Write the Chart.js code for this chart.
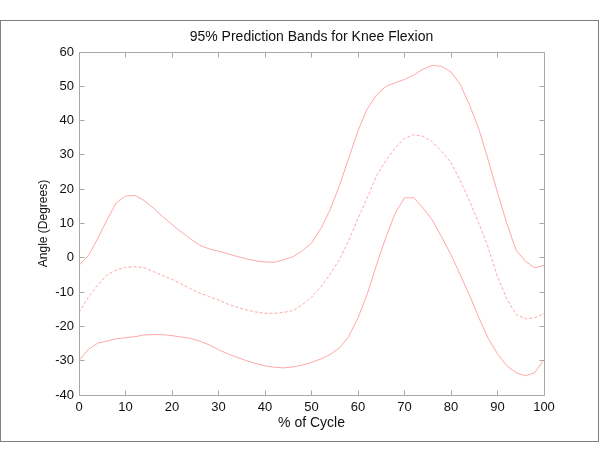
<!DOCTYPE html>
<html>
<head>
<meta charset="utf-8">
<title>95% Prediction Bands for Knee Flexion</title>
<script src="https://cdn.jsdelivr.net/npm/chart.js@4.4.1/dist/chart.umd.min.js"></script>
<style>
    html, body { margin: 0; padding: 0; background: #fff; }
    canvas { display: block; }
</style>
</head>
<body>
<canvas id="kneeChart" width="600" height="463"></canvas>
<script>
// % of gait cycle (x) and the three curves (degrees)
const pctCycle = [0, 2, 4, 6, 8, 10, 12, 14, 16, 18, 20, 22, 24, 26, 28, 30, 32, 34, 36, 38, 40, 42, 44, 46, 48, 50,
    52, 54, 56, 58, 60, 62, 64, 66, 68, 70, 72, 74, 76, 78, 80, 82, 84, 86, 88, 90, 92, 94, 96, 98, 100];

const upperBand = [-2.2, 0.6, 5.5, 11, 16, 18, 18.2, 16.7, 14.5, 12, 9.7, 7.5, 5.5, 3.6, 2.6, 1.9, 1.2, 0.4, -0.3, -0.9, -1.2, -1.3, -0.6, 0.3, 2, 4.3,
    8.5, 14, 21, 29, 37, 43.5, 47.5, 50, 51, 52, 53.3, 55, 56.1, 55.8, 54.2, 50.5, 44.5, 37.5, 28.5, 19, 10, 2.2, -1, -2.9, -2.2];

const meanCurve = [-15.9, -11.5, -8, -5, -3.6, -2.8, -2.6, -2.9, -4, -5.2, -6.3, -7.6, -9, -10.3, -11.3, -12.3, -13.5, -14.4, -15.2, -15.8, -16.2, -16.2, -15.9, -15.4, -13.7, -11.5,
    -8.5, -4.8, -0.5, 5, 11.5, 17.5, 24, 28.3, 32, 34.8, 35.9, 35.4, 33.8, 31, 27.8, 22.5, 16.5, 10, 3, -5.5, -12, -16.5, -17.8, -17.5, -16.2];

const lowerBand = [-29.9, -26.7, -24.9, -24.3, -23.6, -23.3, -23, -22.5, -22.4, -22.4, -22.7, -23.1, -23.5, -24.3, -25.4, -26.8, -28, -29, -30, -30.8, -31.5, -31.9, -32.1, -31.8, -31.3, -30.5,
    -29.5, -28.2, -26.3, -23, -17.5, -10.5, -2, 6, 13, 17.5, 17.5, 14.5, 11, 6, 0.9, -5, -11, -17.5, -23.5, -28, -31.5, -33.5, -34.4, -33.5, -29.7];

const xTickValues = [0, 10, 20, 30, 40, 50, 60, 70, 80, 90, 100];
const yTickValues = [-40, -30, -20, -10, 0, 10, 20, 30, 40, 50, 60];

const toPoints = ys => pctCycle.map((x, i) => ({ x: x, y: ys[i] }));

// MATLAB style box: gray frame round the figure, axes box with inward ticks on all four sides
const matlabBox = {
    id: 'matlabBox',
    beforeDraw(chart) {
        const ctx = chart.ctx;
        ctx.save();
        ctx.fillStyle = '#fff';
        ctx.fillRect(0, 0, chart.width, chart.height);
        ctx.strokeStyle = '#808080';
        ctx.lineWidth = 1;
        ctx.strokeRect(0.5, 20.5, 598, 421);
        ctx.restore();
    },
    afterDatasetsDraw(chart) {
        const { ctx, chartArea: a, scales: { x, y } } = chart;
        const L = Math.floor(a.left) + 0.5, R = Math.floor(a.right) + 0.5;
        const T = Math.floor(a.top) + 0.5, B = Math.floor(a.bottom) + 0.5;
        ctx.save();
        ctx.strokeStyle = '#a8a8a8';
        ctx.lineWidth = 1;
        ctx.beginPath();
        ctx.rect(L, T, R - L, B - T);
        x.ticks.forEach(t => {
            const px = Math.floor(x.getPixelForValue(t.value)) + 0.5;
            ctx.moveTo(px, B); ctx.lineTo(px, B - 5);
            ctx.moveTo(px, T); ctx.lineTo(px, T + 5);
        });
        y.ticks.forEach(t => {
            const py = Math.floor(y.getPixelForValue(t.value)) + 0.5;
            ctx.moveTo(L, py); ctx.lineTo(L + 5, py);
            ctx.moveTo(R, py); ctx.lineTo(R - 5, py);
        });
        ctx.stroke();
        ctx.restore();
    }
};

Chart.defaults.font.family = '"Liberation Sans", Arial, Helvetica, sans-serif';
Chart.defaults.color = '#1a1a1a';

const lineColor = '#ffa8a8';

new Chart(document.getElementById('kneeChart').getContext('2d'), {
    type: 'line',
    data: {
        datasets: [
            { label: 'Upper', data: toPoints(upperBand), borderColor: lineColor, borderWidth: 1, pointRadius: 0, tension: 0, fill: false },
            { label: 'Mean', data: toPoints(meanCurve), borderColor: lineColor, borderWidth: 1, borderDash: [3, 2], pointRadius: 0, tension: 0, fill: false },
            { label: 'Lower', data: toPoints(lowerBand), borderColor: lineColor, borderWidth: 1, pointRadius: 0, tension: 0, fill: false }
        ]
    },
    options: {
        responsive: false,
        animation: false,
        layout: { padding: { left: 0, right: 56, top: 0, bottom: 0 } },
        plugins: {
            legend: { display: false },
            tooltip: { enabled: false },
            title: {
                display: true,
                fullSize: false,
                text: '95% Prediction Bands for Knee Flexion',
                color: '#111',
                font: { size: 14, weight: 'normal' },
                padding: { top: 28.6, bottom: 6.6 }
            }
        },
        scales: {
            x: {
                type: 'linear',
                min: 0,
                max: 100,
                afterBuildTicks: s => { s.ticks = xTickValues.map(v => ({ value: v })); },
                afterFit: s => { s.height = 68; },
                grid: { display: false, drawTicks: false },
                border: { display: false },
                ticks: { font: { size: 13 }, padding: 5, maxRotation: 0, color: '#111' },
                title: { display: true, text: '% of Cycle', font: { size: 14 }, color: '#111', padding: { top: 0, bottom: 31.6 } }
            },
            y: {
                type: 'linear',
                min: -40,
                max: 60,
                afterBuildTicks: s => { s.ticks = yTickValues.map(v => ({ value: v })); },
                afterFit: s => { s.width = 79; },
                grid: { display: false, drawTicks: false },
                border: { display: false },
                ticks: { font: { size: 13 }, padding: 5, color: '#111' },
                title: { display: true, text: 'Angle (Degrees)', font: { size: 12 }, color: '#111', padding: { top: 36.8, bottom: 0 } }
            }
        }
    },
    plugins: [matlabBox]
});
</script>
</body>
</html>
